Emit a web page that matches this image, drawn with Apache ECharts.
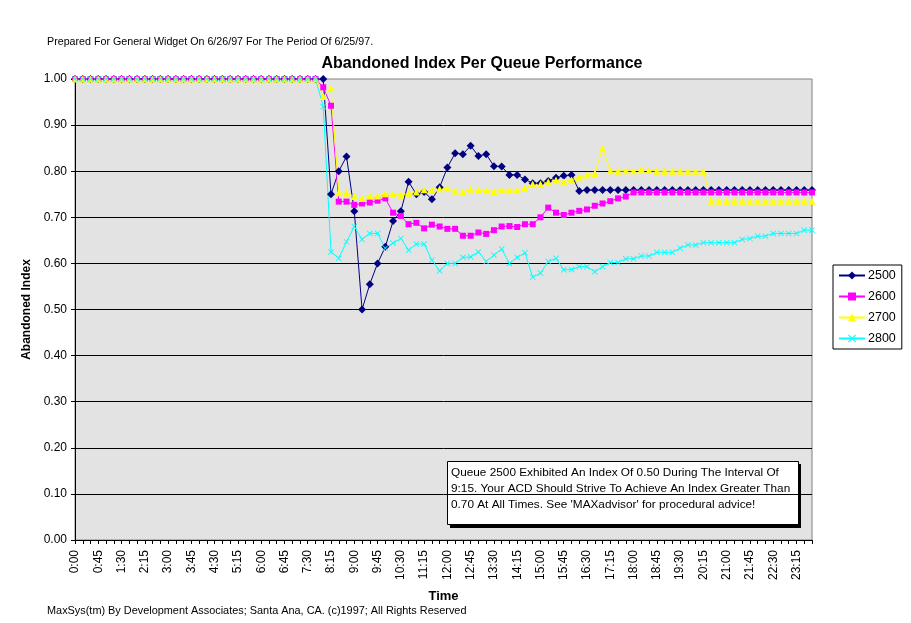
<!DOCTYPE html>
<html>
<head>
<meta charset="utf-8">
<script src="https://cdn.jsdelivr.net/npm/echarts@6/dist/echarts.min.js"></script>
<style>html,body{margin:0;padding:0;background:#fff;}#c{width:911px;height:623px;}</style>
</head>
<body>
<div id="c"></div>
<script>
const times = ["0:00","0:15","0:30","0:45","1:00","1:15","1:30","1:45","2:00","2:15","2:30","2:45","3:00","3:15","3:30","3:45","4:00","4:15","4:30","4:45","5:00","5:15","5:30","5:45","6:00","6:15","6:30","6:45","7:00","7:15","7:30","7:45","8:00","8:15","8:30","8:45","9:00","9:15","9:30","9:45","10:00","10:15","10:30","10:45","11:00","11:15","11:30","11:45","12:00","12:15","12:30","12:45","13:00","13:15","13:30","13:45","14:00","14:15","14:30","14:45","15:00","15:15","15:30","15:45","16:00","16:15","16:30","16:45","17:00","17:15","17:30","17:45","18:00","18:15","18:30","18:45","19:00","19:15","19:30","19:45","20:00","20:15","20:30","20:45","21:00","21:15","21:30","21:45","22:00","22:15","22:30","22:45","23:00","23:15","23:30","23:45"];

const q2500 = [1.00,1.00,1.00,1.00,1.00,1.00,1.00,1.00,1.00,1.00,1.00,1.00,1.00,1.00,1.00,1.00,1.00,1.00,1.00,1.00,1.00,1.00,1.00,1.00,1.00,1.00,1.00,1.00,1.00,1.00,1.00,1.00,
1.00,0.75,0.80,0.832,0.713,0.50,0.555,0.60,0.636,0.692,0.713,0.777,0.75,0.755,0.739,0.765,0.808,0.839,0.837,0.855,0.833,0.837,0.811,0.810,0.792,0.792,0.782,0.774,0.774,0.779,0.786,0.790,0.792,0.757,
0.759,0.759,0.759,0.759,0.759,0.759,0.759,0.759,0.759,0.759,0.759,0.759,0.759,0.759,0.759,0.759,0.759,0.759,0.759,0.759,0.759,0.759,0.759,0.759,0.759,0.759,0.759,0.759,0.759,0.759];

const q2600 = [1.00,1.00,1.00,1.00,1.00,1.00,1.00,1.00,1.00,1.00,1.00,1.00,1.00,1.00,1.00,1.00,1.00,1.00,1.00,1.00,1.00,1.00,1.00,1.00,1.00,1.00,1.00,1.00,1.00,1.00,1.00,1.00,
0.982,0.942,0.734,0.734,0.727,0.730,0.732,0.736,0.741,0.710,0.703,0.685,0.688,0.676,0.684,0.680,0.675,0.675,0.660,0.660,0.667,0.664,0.672,0.680,0.681,0.679,0.685,0.685,0.700,0.721,0.710,0.705,0.710,0.714,0.717,0.725,0.730,0.735,0.741,0.745,
0.754,0.754,0.754,0.754,0.754,0.754,0.754,0.754,0.754,0.754,0.754,0.754,0.754,0.754,0.754,0.754,0.754,0.754,0.754,0.754,0.754,0.754,0.754,0.754];

const q2700 = [1.00,1.00,1.00,1.00,1.00,1.00,1.00,1.00,1.00,1.00,1.00,1.00,1.00,1.00,1.00,1.00,1.00,1.00,1.00,1.00,1.00,1.00,1.00,1.00,1.00,1.00,1.00,1.00,1.00,1.00,1.00,1.00,
0.962,0.980,0.753,0.752,0.745,0.741,0.747,0.746,0.751,0.750,0.748,0.752,0.755,0.760,0.760,0.762,0.763,0.757,0.755,0.761,0.759,0.758,0.756,0.759,0.759,0.759,0.763,0.772,0.772,0.777,0.781,0.777,0.781,0.787,0.792,0.795,0.850,0.801,0.800,0.801,0.801,0.804,0.802,
0.800,0.800,0.800,0.800,0.800,0.800,0.800,
0.735,0.735,0.735,0.735,0.735,0.735,0.735,0.735,0.735,0.735,0.735,0.735,0.735,0.735];

const q2800 = [1.00,1.00,1.00,1.00,1.00,1.00,1.00,1.00,1.00,1.00,1.00,1.00,1.00,1.00,1.00,1.00,1.00,1.00,1.00,1.00,1.00,1.00,1.00,1.00,1.00,1.00,1.00,1.00,1.00,1.00,1.00,1.00,
0.940,0.625,0.611,0.647,0.680,0.652,0.665,0.665,0.633,0.644,0.654,0.629,0.642,0.642,0.607,0.584,0.600,0.600,0.613,0.614,0.625,0.604,0.618,0.631,0.600,0.613,0.623,0.570,0.579,0.604,0.611,0.586,0.587,0.593,0.593,0.582,0.593,0.602,0.602,0.610,0.610,0.616,0.616,0.624,0.624,0.624,0.633,0.640,0.640,0.645,0.645,0.645,0.645,0.645,0.652,0.654,0.659,0.659,0.665,0.665,0.665,0.665,0.672,0.672];

const seriesNames = ["2500","2600","2700","2800"];
const seriesData = [q2500, q2600, q2700, q2800];
const seriesColors = ["#000080","#ff00ff","#ffff00","#00ffff"];
const seriesSymbols = ["diamond","rect","triangle","path://M0,1L1,0L5,4L9,0L10,1L6,5L10,9L9,10L5,6L1,10L0,9L4,5Z"];
const seriesSymbolSizes = [8,6,7,6];

const titleText = "Abandoned Index Per Queue Performance";
const subText = "Prepared For General Widget On 6/26/97 For The Period Of 6/25/97.";
const footText = "MaxSys(tm) By Development Associates; Santa Ana, CA. (c)1997; All Rights Reserved";
const noteText = "Queue 2500 Exhibited An Index Of 0.50 During The Interval Of\n9:15. Your ACD Should Strive To Achieve An Index Greater Than\n0.70 At All Times. See 'MAXadvisor' for procedural advice!";

const FONT = '"Liberation Sans", Arial, sans-serif';
const chart = echarts.init(document.getElementById('c'), null, {renderer:'canvas'});

chart.setOption({
  animation: false,
  backgroundColor: '#ffffff',
  textStyle: {fontFamily: FONT, color: '#000'},
  grid: {left: 75, right: 99, top: 79, bottom: 83, show: true, backgroundColor: '#e3e3e3', borderColor: '#808080', borderWidth: 1},
  legend: {
    data: seriesNames,
    orient: 'vertical',
    left: 833, top: 265,
    padding: [4, 6, 4, 5],
    itemWidth: 26, itemHeight: 10, itemGap: 8,
    backgroundColor: '#fff', borderColor: '#000', borderWidth: 1,
    textStyle: {fontFamily: FONT, fontSize: 12.5, color: '#000', padding: [0,0,0,-2]}
  },
  xAxis: {
    type: 'category', data: times, boundaryGap: false,
    name: 'Time', nameLocation: 'middle', nameGap: 50,
    nameTextStyle: {fontFamily: FONT, fontWeight: 'bold', fontSize: 13, color: '#000'},
    axisLine: {lineStyle: {color: '#000', width: 1}},
    axisTick: {show: true, interval: 0, length: 4, lineStyle: {color: '#000'}},
    axisLabel: {interval: 2, rotate: 90, margin: 10, fontFamily: FONT, fontSize: 12, color: '#000'},
    splitLine: {show: false}
  },
  yAxis: {
    type: 'value', min: 0, max: 1, interval: 0.1,
    name: 'Abandoned Index', nameLocation: 'middle', nameGap: 40, nameRotate: 90,
    nameTextStyle: {fontFamily: FONT, fontWeight: 'bold', fontSize: 12, color: '#000'},
    axisLine: {show: true, lineStyle: {color: '#000', width: 1}},
    axisTick: {show: true, length: 4, lineStyle: {color: '#000'}},
    axisLabel: {margin: 8, fontFamily: FONT, fontSize: 12, color: '#000', formatter: v => v.toFixed(2)},
    splitLine: {show: true, showMaxLine: false, lineStyle: {color: '#000', width: 1}}
  },
  series: seriesNames.map((n, i) => ({
    name: n, type: 'line', data: seriesData[i],
    symbol: seriesSymbols[i], symbolSize: seriesSymbolSizes[i], showAllSymbol: true,
    lineStyle: {color: seriesColors[i], width: 1},
    itemStyle: {color: seriesColors[i], borderWidth: 0},
    emphasis: {disabled: true}
  })),
  graphic: [
    {type: 'text', left: 47, top: 37, style: {text: subText, font: '10.7px ' + FONT, fill: '#000'}},
    {type: 'text', x: 482, y: 56, style: {text: titleText, font: 'bold 16px ' + FONT, fill: '#000', textAlign: 'center'}},
    {type: 'text', left: 47, top: 605, style: {text: footText, font: '10.9px ' + FONT, fill: '#000'}},
    {type: 'rect', shape: {x: 450, y: 464, width: 351, height: 64}, style: {fill: '#000'}},
    {type: 'rect', shape: {x: 447.5, y: 461.5, width: 351, height: 63}, style: {fill: '#fff', stroke: '#000', lineWidth: 1}},
    {type: 'text', x: 451, y: 465, style: {text: noteText, font: '11.8px ' + FONT, lineHeight: 16, fill: '#000'}}
  ]
});
</script>
</body>
</html>
